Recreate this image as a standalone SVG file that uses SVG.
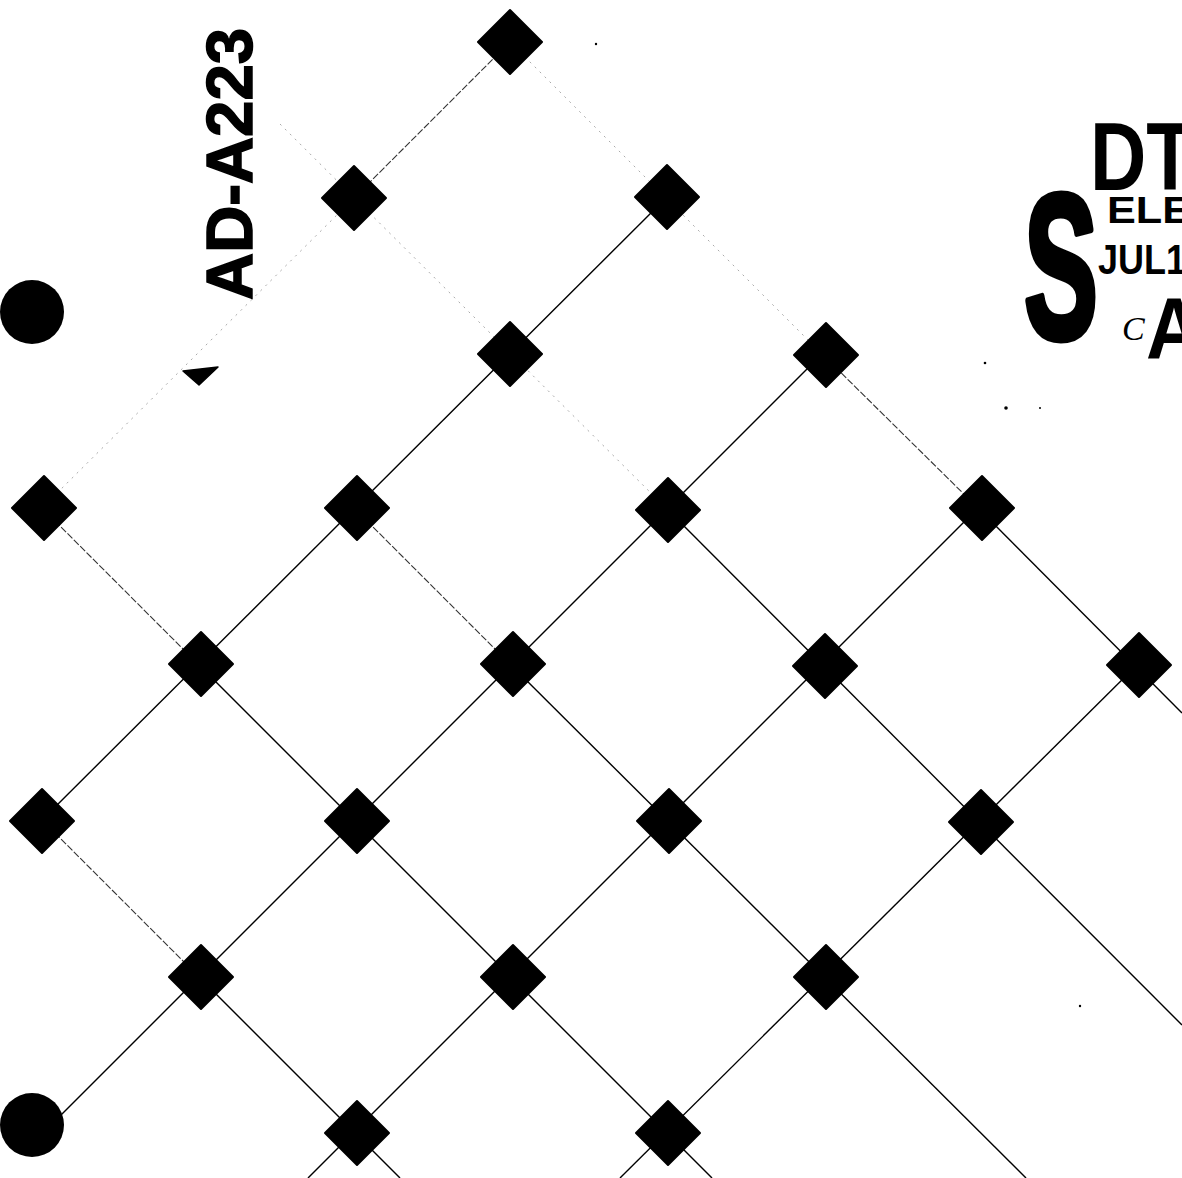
<svg xmlns="http://www.w3.org/2000/svg" xmlns:xlink="http://www.w3.org/1999/xlink" width="1182" height="1178" viewBox="0 0 1182 1178">
  <style>
    .solid { stroke: #000; stroke-width: 1.4; fill: none; }
    .medium { stroke: #333; stroke-width: 1.1; fill: none; stroke-dasharray: 7 2; }
    .faint { stroke: #aaa; stroke-width: 1; fill: none; stroke-dasharray: 2 5; }
    .dm { fill: #000; stroke: #000; stroke-width: 2; stroke-linejoin: round; }
    .stamp { font-family: "Liberation Sans", Arial, sans-serif; font-weight: bold; fill: #000; }
  </style>
  <defs>
    <polygon id="dm" class="dm" points="0,-32 32,0 0,32 -32,0"/>
  </defs>
  <rect width="1182" height="1178" fill="#fff"/>

  <g id="connectors">
    <line class="medium" x1="354" y1="198" x2="510" y2="42"/>
    <line class="faint" x1="42" y1="508" x2="354" y2="198"/>
    <line class="solid" x1="42" y1="820" x2="666" y2="198"/>
    <line class="solid" x1="50" y1="1126" x2="822" y2="354"/>
    <line class="solid" x1="308" y1="1178" x2="978" y2="508"/>
    <line class="solid" x1="620" y1="1178" x2="1138" y2="664"/>
    <line class="faint" x1="510" y1="42" x2="822" y2="354"/>
    <line class="medium" x1="822" y1="354" x2="978" y2="508"/>
    <line class="solid" x1="978" y1="508" x2="1182" y2="713"/>
    <line class="faint" x1="280" y1="124" x2="666" y2="508"/>
    <line class="solid" x1="666" y1="508" x2="1182" y2="1025"/>
    <line class="medium" x1="354" y1="508" x2="510" y2="664"/>
    <line class="solid" x1="510" y1="664" x2="1026" y2="1178"/>
    <line class="medium" x1="42" y1="508" x2="198" y2="664"/>
    <line class="solid" x1="198" y1="664" x2="712" y2="1178"/>
    <line class="medium" x1="42" y1="820" x2="198" y2="976"/>
    <line class="solid" x1="198" y1="976" x2="400" y2="1178"/>
  </g>

  <g id="n_510_42"><use xlink:href="#dm" x="510" y="42"/></g>
  <g id="n_354_198"><use xlink:href="#dm" x="354" y="198"/></g>
  <g id="n_666_198"><use xlink:href="#dm" x="667" y="197"/></g>
  <g id="n_510_354"><use xlink:href="#dm" x="510" y="354"/></g>
  <g id="n_822_354"><use xlink:href="#dm" x="826" y="355"/></g>
  <g id="n_42_508"><use xlink:href="#dm" x="44" y="508"/></g>
  <g id="n_354_508"><use xlink:href="#dm" x="357" y="508"/></g>
  <g id="n_666_508"><use xlink:href="#dm" x="668" y="510"/></g>
  <g id="n_978_508"><use xlink:href="#dm" x="982" y="508"/></g>
  <g id="n_198_664"><use xlink:href="#dm" x="201" y="664"/></g>
  <g id="n_510_664"><use xlink:href="#dm" x="513" y="664"/></g>
  <g id="n_822_664"><use xlink:href="#dm" x="825" y="666"/></g>
  <g id="n_1138_664"><use xlink:href="#dm" x="1139" y="665"/></g>
  <g id="n_42_820"><use xlink:href="#dm" x="42" y="821"/></g>
  <g id="n_354_820"><use xlink:href="#dm" x="357" y="821"/></g>
  <g id="n_666_820"><use xlink:href="#dm" x="669" y="821"/></g>
  <g id="n_978_820"><use xlink:href="#dm" x="981" y="822"/></g>
  <g id="n_198_976"><use xlink:href="#dm" x="201" y="977"/></g>
  <g id="n_510_976"><use xlink:href="#dm" x="513" y="977"/></g>
  <g id="n_822_976"><use xlink:href="#dm" x="826" y="977"/></g>
  <g id="n_354_1132"><use xlink:href="#dm" x="357" y="1133"/></g>
  <g id="n_666_1132"><use xlink:href="#dm" x="668" y="1133"/></g>

  <g id="circle_top"><circle cx="32" cy="312" r="32" fill="#000"/></g>
  <g id="circle_bottom"><circle cx="32" cy="1125" r="32" fill="#000"/></g>

  <g id="triangle"><polygon points="183,371 218,367 199,385" fill="#000" stroke="#000" stroke-width="1.5" stroke-linejoin="round"/></g>

  <g id="doc_number">
    <text transform="translate(252,300) rotate(-90)" x="0" y="0" class="stamp" font-size="64" textLength="272" lengthAdjust="spacingAndGlyphs" stroke="#000" stroke-width="1.5">AD-A223</text>
  </g>

  <g id="stamp">
    <text x="1090" y="190" class="stamp" font-size="96" textLength="104" lengthAdjust="spacingAndGlyphs">DT</text>
    <text x="1107" y="223" class="stamp" font-size="36" textLength="84" lengthAdjust="spacingAndGlyphs">ELE</text>
    <text x="1098" y="274" class="stamp" font-size="42" textLength="88" lengthAdjust="spacingAndGlyphs">JUL1</text>
    <text x="1024" y="338" class="stamp" font-size="206" textLength="74" lengthAdjust="spacingAndGlyphs" stroke="#000" stroke-width="7" stroke-linejoin="round">S</text>
    <text x="1122" y="340" font-family="Liberation Serif, serif" font-style="italic" font-size="34" fill="#000">C</text>
    <text x="1146" y="358" class="stamp" font-size="88" textLength="56" lengthAdjust="spacingAndGlyphs">A</text>
  </g>

  <g id="specks" fill="#000">
    <circle cx="985" cy="363" r="1.3"/>
    <circle cx="1006" cy="408" r="1.8"/>
    <circle cx="1040" cy="408" r="1"/>
    <circle cx="596" cy="44" r="1.2"/>
    <circle cx="1080" cy="1006" r="1.2"/>
  </g>
</svg>
